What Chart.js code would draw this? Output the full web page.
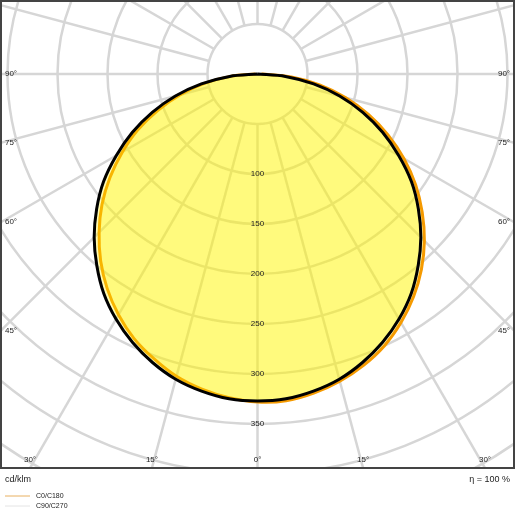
<!DOCTYPE html>
<html>
<head>
<meta charset="utf-8">
<script src="https://cdn.jsdelivr.net/npm/chart.js@4"></script>
<style>
    html, body { margin: 0; padding: 0; background: #fff; }
    #wrap { width: 515px; height: 515px; }
</style>
</head>
<body>
<div id="wrap"><canvas id="ldc"></canvas></div>
<script>
// Light distribution curve, cd/klm, gamma angle 0..90
const gammaAngles = [0, 5, 10, 15, 20, 25, 30, 35, 40, 45, 50, 55, 60, 65, 70, 75, 80, 85, 90];
const c0Values   = [328, 328, 324, 318, 310, 300, 287, 272, 255, 236, 215, 193, 169, 144, 118, 91, 63, 34, 4];
const c180Values = [327, 325, 320, 313, 303, 292, 278, 262, 244, 224, 203, 180, 156, 132, 106, 80, 54, 27, 2];
const c90Values  = [327, 326, 322, 316, 307, 296, 283, 268, 250, 231, 210, 188, 163, 138, 112, 85, 57, 28, 0];
const c270Values = [327, 326, 322, 316, 307, 296, 283, 268, 250, 231, 210, 188, 163, 138, 112, 85, 57, 28, 0];
const ringValues = [50, 100, 150, 200, 250, 300, 350, 400, 450, 500];
const ringLabels = ['100', '150', '200', '250', '300', '350'];
const spokeLabels = ['0°', '15°', '30°', '45°', '60°', '75°', '90°'];
const legendLabels = ['C0/C180', 'C90/C270'];

const FONT = 'Liberation Sans, Arial, sans-serif';

function planePoints(right, left) {
    const pts = [];
    for (let i = gammaAngles.length - 1; i >= 0; i--) {
        const a = gammaAngles[i] * Math.PI / 180;
        pts.push({ x: right[i] * Math.sin(a), y: -right[i] * Math.cos(a) });
    }
    for (let i = 1; i < gammaAngles.length; i++) {
        const a = gammaAngles[i] * Math.PI / 180;
        pts.push({ x: -left[i] * Math.sin(a), y: -left[i] * Math.cos(a) });
    }
    return pts;
}

const polarGrid = {
    id: 'polarGrid',
    beforeDatasetsDraw(chart) {
        const { ctx, chartArea: ca, scales: { x, y } } = chart;
        const cx = x.getPixelForValue(0), cy = y.getPixelForValue(0);
        const k = x.getPixelForValue(100) - cx;
        ctx.save();
        ctx.beginPath();
        ctx.rect(ca.left, ca.top, ca.right - ca.left, ca.bottom - ca.top);
        ctx.clip();
        ctx.strokeStyle = '#d6d6d6';
        ctx.lineWidth = 2.5;
        ringValues.forEach(r => {
            ctx.beginPath();
            ctx.arc(cx, cy, r * k / 100, 0, Math.PI * 2);
            ctx.stroke();
        });
        for (let deg = 0; deg < 360; deg += 15) {
            const a = deg * Math.PI / 180;
            ctx.beginPath();
            ctx.moveTo(cx + Math.sin(a) * 50 * k / 100, cy + Math.cos(a) * 50 * k / 100);
            ctx.lineTo(cx + Math.sin(a) * 900, cy + Math.cos(a) * 900);
            ctx.stroke();
        }
        ctx.restore();
    },
    afterDatasetsDraw(chart) {
        const { ctx, chartArea: ca, scales: { x, y } } = chart;
        const cx = x.getPixelForValue(0), cy = y.getPixelForValue(0);
        const k = x.getPixelForValue(100) - cx;
        ctx.save();
        ctx.fillStyle = '#222';
        ctx.font = '8px ' + FONT;
        ctx.textAlign = 'center';
        ctx.textBaseline = 'middle';
        ringLabels.forEach(t => ctx.fillText(t, cx, cy + Number(t) * k / 100));

        // spoke labels where the spokes leave the frame
        spokeLabels.forEach(t => {
            const deg = parseInt(t);
            const a = deg * Math.PI / 180;
            const dx = Math.sin(a), dy = Math.cos(a);
            const tx = dx > 1e-6 ? (ca.right - cx) / dx : Infinity;
            const ty = dy > 1e-6 ? (ca.bottom - cy) / dy : Infinity;
            if (ty <= tx) {
                const px = dx * ty;
                ctx.fillText(t, cx - px, ca.bottom - 8);
                if (deg) ctx.fillText(t, cx + px, ca.bottom - 8);
            } else {
                const py = cy + dy * tx;
                ctx.fillText(t, ca.left + 10, py);
                ctx.fillText(t, ca.right - 10, py);
            }
        });

        ctx.strokeStyle = '#444';
        ctx.lineWidth = 2;
        ctx.strokeRect(ca.left, ca.top, ca.right - ca.left, ca.bottom - ca.top);

        ctx.font = '9px ' + FONT;
        ctx.textAlign = 'left';
        ctx.fillText('cd/klm', 5, ca.bottom + 12);
        ctx.textAlign = 'right';
        ctx.fillText('η = 100 %', 510, ca.bottom + 12);

        ctx.font = '7px ' + FONT;
        ctx.textAlign = 'left';
        const legendColors = ['#e8b060', '#e4e4e4'];
        legendLabels.forEach((t, i) => {
            const ly = ca.bottom + 28 + i * 10;
            ctx.strokeStyle = legendColors[i];
            ctx.lineWidth = 1;
            ctx.beginPath();
            ctx.moveTo(5, ly);
            ctx.lineTo(30, ly);
            ctx.stroke();
            ctx.fillText(t, 36, ly);
        });
        ctx.restore();
    }
};

new Chart(document.getElementById('ldc'), {
    type: 'scatter',
    data: {
        datasets: [
            {
                label: 'C90/C270',
                data: planePoints(c90Values, c270Values),
                showLine: true,
                tension: 0.3,
                borderColor: '#000',
                borderWidth: 3,
                backgroundColor: 'rgba(255,245,0,0.3)',
                fill: 'shape',
                pointRadius: 0
            },
            {
                label: 'C0/C180',
                data: planePoints(c0Values, c180Values),
                showLine: true,
                tension: 0.3,
                borderColor: '#f59a00',
                borderWidth: 3,
                backgroundColor: 'rgba(255,245,0,0.3)',
                fill: 'shape',
                pointRadius: 0
            }
        ]
    },
    options: {
        responsive: true,
        maintainAspectRatio: false,
        animation: false,
        layout: { padding: { left: 1, right: 1, top: 1, bottom: 47 } },
        scales: {
            x: { display: false, min: -256.5, max: 256.5 },
            y: { display: false, min: -394, max: 73 }
        },
        plugins: {
            legend: { display: false },
            tooltip: { enabled: false }
        }
    },
    plugins: [polarGrid]
});
</script>
</body>
</html>
